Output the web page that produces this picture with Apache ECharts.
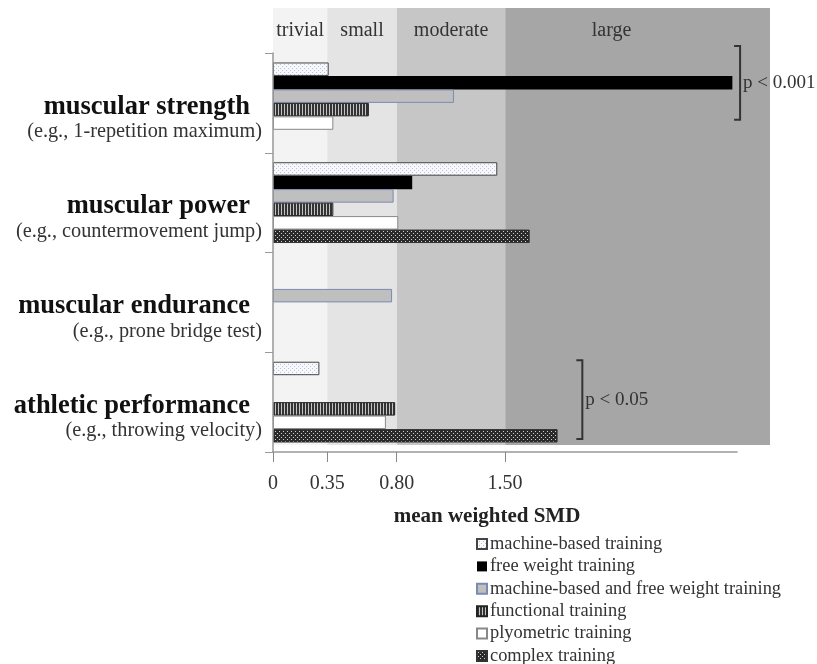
<!DOCTYPE html>
<html><head><meta charset="utf-8">
<script src="https://cdn.jsdelivr.net/npm/echarts@6/dist/echarts.min.js"></script>
<style>html,body{margin:0;padding:0;background:#fff}#c{width:817px;height:664px}</style>
</head><body><div id="c"></div>
<script>
// ---- data ----
const categories = ['muscular strength', 'muscular power', 'muscular endurance', 'athletic performance'];
const examples = ['(e.g., 1-repetition maximum)', '(e.g., countermovement jump)', '(e.g., prone bridge test)', '(e.g., throwing velocity)'];
const seriesNames = ['machine-based training', 'free weight training', 'machine-based and free weight training', 'functional training', 'plyometric training', 'complex training'];
const machineBased = [0.36, 1.45, null, 0.30];
const freeWeight = [2.97, 0.90, null, null];
const machineFree = [1.17, 0.78, 0.77, null];
const functional = [0.62, 0.39, null, 0.79];
const plyometric = [0.39, 0.81, null, 0.73];
const complex = [null, 1.66, null, 1.84];
const bandNames = ['trivial', 'small', 'moderate', 'large'];
const bandEdges = [0, 0.35, 0.80, 1.50, 3.21];
const tickValues = [0, 0.35, 0.80, 1.50];
const pLabels = ['p < 0.001', 'p < 0.05'];
const pCategories = [0, 3];
const pX = [3.02, 2.0];
const pSpan = [[-0.07, 0.67], [0.08, 0.87]];

const FONT = "'Liberation Serif', 'Times New Roman', serif";

function pattern(w, h, draw) {
  const c = document.createElement('canvas');
  c.width = w; c.height = h;
  const g = c.getContext('2d');
  draw(g);
  return { image: c, repeat: 'repeat' };
}
const pMachine = pattern(4, 4, g => {
  g.fillStyle = '#f7f8fb'; g.fillRect(0, 0, 4, 4);
  g.fillStyle = '#b9c3d8'; g.fillRect(0, 0, 1, 1); g.fillRect(2, 2, 1, 1);
});
const pFunctional = pattern(3, 3, g => {
  g.fillStyle = '#333'; g.fillRect(0, 0, 3, 3);
  g.fillStyle = '#c4c4c4'; g.fillRect(2, 0, 1, 3);
});
const pComplex = pattern(4, 4, g => {
  g.fillStyle = '#2a2a2a'; g.fillRect(0, 0, 4, 4);
  g.fillStyle = '#cfcfcf'; g.fillRect(1, 1, 1, 1); g.fillRect(3, 3, 1, 1);
});

const seriesData = [machineBased, freeWeight, machineFree, functional, plyometric, complex];
const styles = [
  { color: pMachine, borderColor: '#444', borderWidth: 1 },
  { color: '#000', borderColor: '#000', borderWidth: 0 },
  { color: '#bfbfbf', borderColor: '#7b8ab0', borderWidth: 1 },
  { color: pFunctional, borderColor: '#222', borderWidth: 1 },
  { color: '#fff', borderColor: '#888', borderWidth: 1 },
  { color: pComplex, borderColor: '#333', borderWidth: 1 }
];

const chart = echarts.init(document.getElementById('c'), null, { renderer: 'canvas' });

const bars = seriesNames.map((n, i) => ({
  name: n, type: 'bar', xAxisIndex: 0, yAxisIndex: 0,
  data: seriesData[i], itemStyle: styles[i],
  barGap: '0%', barCategoryGap: '19%', z: 3, silent: true
}));

const bandColors = ['#f3f3f3', '#e4e4e4', '#c6c6c6', '#a6a6a6'];
const bandOffsets = [0, 0, 0, -26];

const option = {
  backgroundColor: '#fff',
  animation: false,
  grid: [
    { left: 273, top: 53, width: 464, height: 399, containLabel: false },
    { left: 273, top: 8, width: 497, height: 437, containLabel: false }
  ],
  xAxis: [
    {
      gridIndex: 0, type: 'value', min: 0, max: 3.0, z: 5,
      name: 'mean weighted SMD', nameLocation: 'middle', nameGap: 54,
      nameTextStyle: { fontFamily: FONT, fontWeight: 'bold', fontSize: 21, color: '#222', padding: [0, 36, 0, 0] },
      axisLine: { show: true, lineStyle: { color: '#999', width: 1.5 } },
      splitLine: { show: false },
      axisTick: { show: true, customValues: tickValues, length: 10, lineStyle: { color: '#888' } },
      axisLabel: { customValues: tickValues, formatter: v => v === 0 ? '0' : v.toFixed(2), fontFamily: FONT, fontSize: 20, color: '#333', margin: 22 }
    },
    { gridIndex: 1, type: 'value', min: 0, max: bandEdges[bandEdges.length - 1], show: false }
  ],
  yAxis: [
    {
      gridIndex: 0, type: 'category', data: categories, inverse: true, z: 5,
      axisLine: { show: true, lineStyle: { color: '#999', width: 1.5 } },
      axisTick: { show: true, length: 8, lineStyle: { color: '#999' } },
      axisLabel: {
        margin: 11, padding: [32, 0, 0, 0], verticalAlign: 'middle', align: 'right',
        formatter: (v, i) => '{t|' + v + '}\n{s|' + examples[i] + '}',
        rich: {
          t: { fontFamily: FONT, fontWeight: 'bold', fontSize: 26.5, lineHeight: 26, color: '#111', padding: [0, 12, 0, 0], align: 'right' },
          s: { fontFamily: FONT, fontSize: 20.3, lineHeight: 24, color: '#333', align: 'right' }
        }
      }
    },
    { gridIndex: 1, type: 'value', min: 0, max: 1, show: false }
  ],
  legend: {
    orient: 'vertical', left: 476, top: 535, height: 200, itemWidth: 10, itemHeight: 10, itemGap: 4.4,
    icon: 'rect', selectedMode: false, padding: 0,
    textStyle: { fontFamily: FONT, fontSize: 18.4, color: '#333', padding: [0, 0, 0, -2] },
    data: seriesNames
  },
  series: [
    {
      type: 'line', xAxisIndex: 1, yAxisIndex: 1, data: [], z: 1, silent: true,
      markArea: {
        silent: true,
        data: bandNames.map((b, i) => [
          { xAxis: bandEdges[i], name: b, itemStyle: { color: bandColors[i] },
            label: { offset: [bandOffsets[i], 0] } },
          { xAxis: bandEdges[i + 1] }
        ]),
        label: { show: true, position: 'insideTop', distance: 13, fontFamily: FONT, fontSize: 20, color: '#333' }
      }
    }
  ].concat(bars)
};
chart.setOption(option);

// bracket annotations positioned through the chart's own scales
const bandH = 399 / categories.length;
const gfx = [];
pLabels.forEach((lab, k) => {
  const x = chart.convertToPixel({ xAxisIndex: 0 }, pX[k]);
  const yc = chart.convertToPixel({ yAxisIndex: 0 }, categories[pCategories[k]]);
  const top = yc - bandH / 2;
  const y1 = top + pSpan[k][0] * bandH, y2 = top + pSpan[k][1] * bandH;
  gfx.push({ type: 'polyline', z: 10, shape: { points: [[x - 6, y1], [x, y1], [x, y2], [x - 6, y2]] },
    style: { stroke: '#333', lineWidth: 2, fill: null } });
  gfx.push({ type: 'text', z: 10, x: x + 3, y: (y1 + y2) / 2,
    style: { text: lab, font: "19px " + FONT, fill: '#333', verticalAlign: 'middle', align: 'left' } });
});
chart.setOption({ graphic: gfx });
</script></body></html>
